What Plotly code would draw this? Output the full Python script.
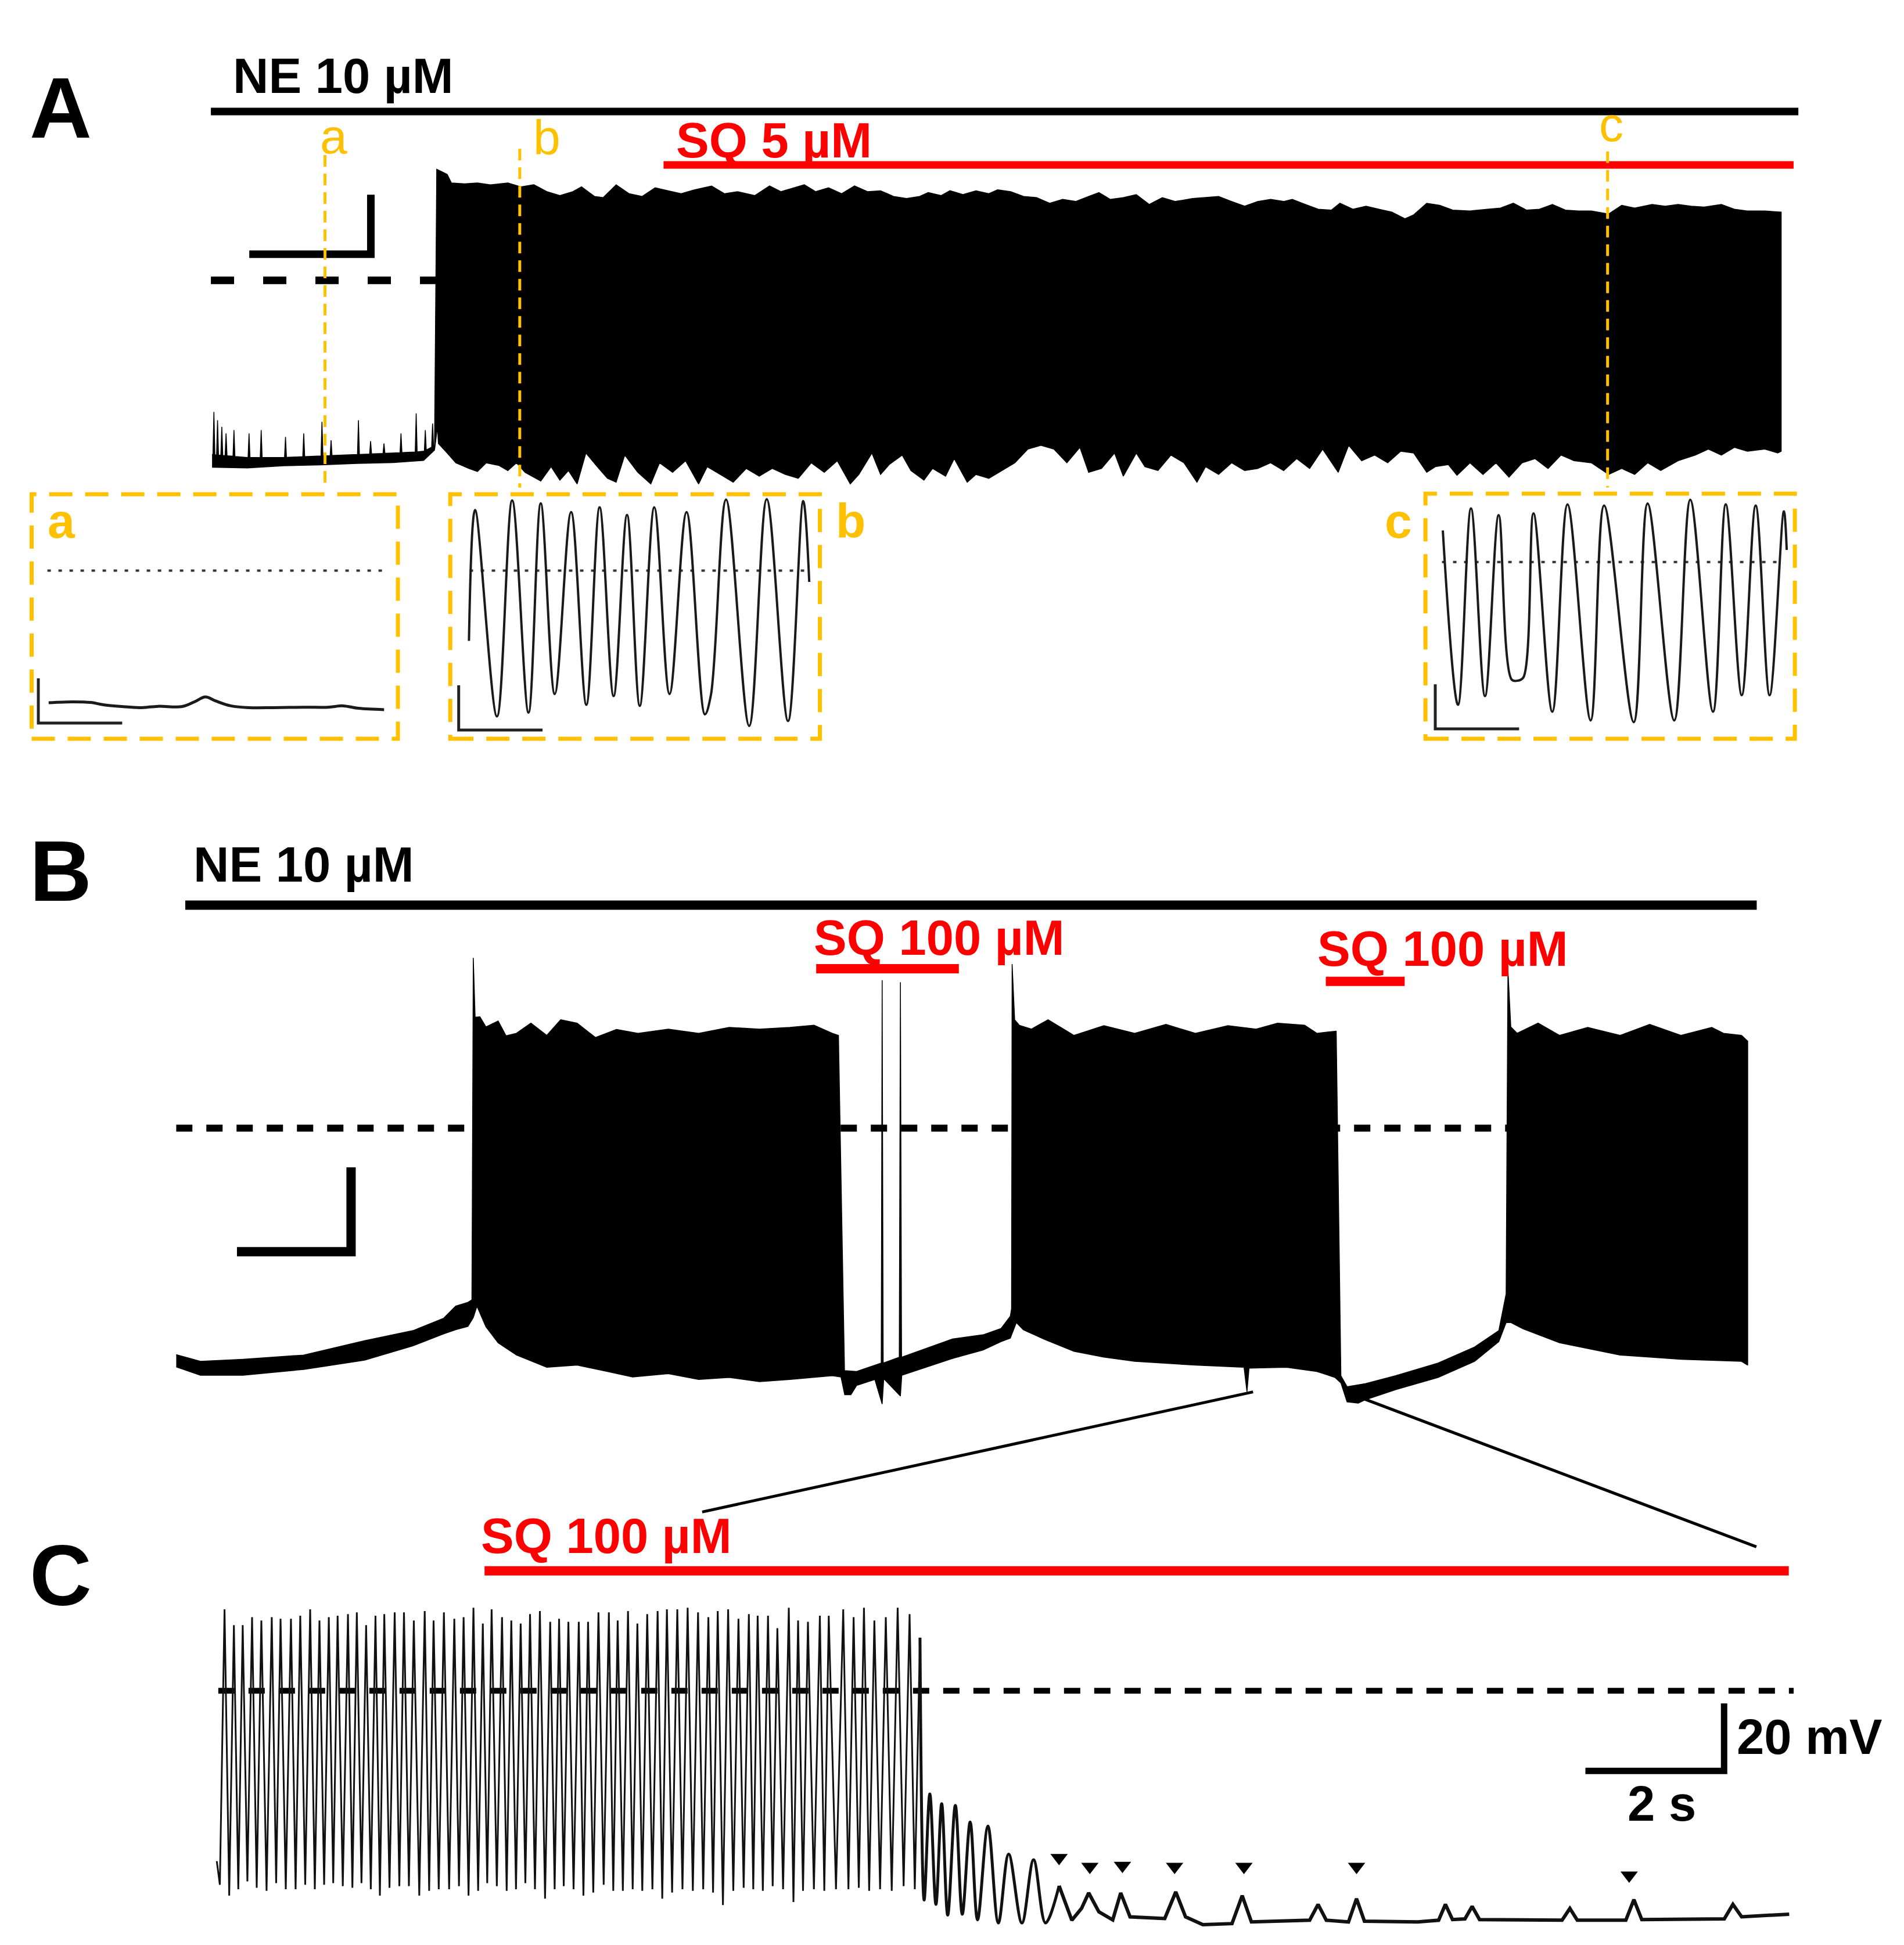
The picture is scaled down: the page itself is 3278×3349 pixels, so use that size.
import numpy as np
import plotly.graph_objects as go

# ---------------- data (time in s, membrane potential in mV) ----------------
# Panel A: NE 10 uM, later SQ 5 uM
# before the burst: noisy baseline band plus isolated spikes
A_PRE_BASE_T = [1, 30, 60, 90, 120, 150, 175, 184]
A_PRE_BASE_V = [-58.5, -59.5, -59.5, -59.0, -58.5, -58.0, -57.5, -55.5]
A_PRE_LOW_V = [-62.8, -63.0, -62.3, -62.0, -61.5, -61.2, -60.5, -57.0]
A_SPIKE_T = [2.5, 5.5, 9.0, 12.5, 19.0, 31.4, 41.4, 61.4, 76.4, 91.4, 98.9, 121.4, 131.4, 142.4,
             156.4, 168.9, 176.4, 182.4]
A_SPIKE_V = [-44.2, -47.0, -49.2, -51.4, -50.3, -51.4, -50.3, -52.6, -51.4, -47.5, -53.7, -47.0,
             -54.0, -54.8, -51.4, -44.7, -50.3, -48.1]
# the burst: upper / lower envelope of the dense firing
A_UP_T = [185.7, 185.8, 194.4, 197.9, 208.6, 219.3, 230.0, 244.3, 255.0, 265.7, 276.4, 287.1, 297.8,
          304.9, 315.6, 322.7, 333.4, 344.1, 354.8, 365.5, 376.2, 386.9, 397.6, 411.9, 422.6, 433.2,
          447.5, 459.6, 468.9, 479.6, 488.2, 497.4, 508.1, 518.8, 529.5, 540.2, 550.9, 561.6, 572.3,
          583.0, 590.1, 600.8, 608.0, 618.7, 629.4, 640.0, 647.2, 657.9, 668.6, 679.3, 690.0, 700.7,
          711.4, 722.1, 730.6, 739.9, 750.6, 761.3, 772.0, 782.7, 793.4, 807.6, 818.3, 829.0, 839.7,
          850.4, 861.1, 871.8, 882.5, 889.6, 900.3, 911.0, 921.7, 928.8, 939.5, 950.3, 960.9, 971.6,
          982.3, 989.5, 1000.2, 1010.9, 1021.6, 1035.8, 1050.1, 1060.8, 1071.5, 1082.2, 1092.9,
          1103.6, 1114.3, 1125.0, 1135.7, 1149.9, 1160.6, 1171.3, 1185.6, 1196.3, 1207.0, 1217.7,
          1228.4, 1242.6, 1253.3, 1264.0, 1278.3, 1289.0, 1291.8]
A_UP_V = [30.0, 37.3, 35.6, 32.7, 32.4, 32.7, 32.1, 32.7, 31.4, 32.1, 29.8, 28.5, 29.8, 31.4, 28.2,
          27.8, 32.1, 29.1, 28.2, 31.1, 30.1, 29.1, 30.4, 31.7, 29.1, 29.8, 28.5, 31.7, 29.8, 31.1,
          32.1, 29.8, 31.1, 29.1, 31.7, 29.8, 30.1, 28.2, 27.5, 28.2, 29.5, 28.5, 30.1, 28.8, 30.1,
          29.1, 30.4, 29.8, 28.2, 27.8, 25.9, 27.2, 26.5, 28.2, 29.5, 27.2, 27.8, 28.8, 25.5, 27.8,
          26.5, 27.5, 27.8, 28.2, 26.5, 24.9, 26.5, 27.2, 26.5, 27.2, 25.5, 23.9, 23.6, 25.9, 23.9,
          24.9, 23.9, 22.9, 20.7, 22.0, 25.9, 25.2, 23.6, 23.3, 23.9, 24.3, 25.9, 23.6, 23.9, 25.5,
          23.6, 23.3, 23.3, 22.3, 25.2, 24.3, 25.5, 24.9, 25.5, 24.9, 24.6, 25.5, 23.9, 23.3, 23.3,
          22.9, 22.9]
A_LO_T = [186.4, 187.2, 194.4, 201.5, 212.2, 219.3, 226.5, 237.1, 244.3, 251.4, 258.5, 271.4, 279.9,
          287.1, 294.2, 301.3, 308.5, 319.2, 326.3, 333.4, 340.5, 351.2, 361.9, 369.1, 379.8, 390.5,
          401.2, 408.3, 419.0, 429.7, 440.4, 451.1, 461.8, 472.5, 483.2, 493.9, 504.6, 515.3, 526.0,
          533.1, 543.8, 550.9, 558.0, 568.7, 575.9, 586.6, 593.7, 604.4, 611.5, 622.2, 629.4, 640.0,
          650.7, 661.4, 672.1, 682.8, 693.5, 704.2, 714.9, 722.1, 732.7, 743.4, 750.6, 761.3, 768.4,
          779.1, 789.8, 800.5, 811.2, 818.3, 829.0, 839.7, 850.4, 861.1, 871.8, 882.5, 893.2, 903.9,
          914.6, 927.4, 936.0, 946.7, 957.4, 968.1, 978.8, 989.5, 1000.2, 1007.3, 1018.0, 1025.1,
          1035.8, 1046.5, 1057.2, 1067.9, 1078.6, 1089.3, 1100.0, 1110.7, 1121.4, 1135.7, 1149.9,
          1160.6, 1171.3, 1182.0, 1192.7, 1207.0, 1221.2, 1231.9, 1242.6, 1253.3, 1264.0, 1278.3,
          1289.0, 1291.8]
A_LO_V = [-49.2, -54.8, -58.0, -61.3, -63.2, -64.2, -61.3, -62.2, -63.9, -61.3, -64.5, -67.4, -62.6,
          -67.1, -63.9, -68.4, -58.0, -63.2, -66.5, -67.8, -58.7, -64.5, -68.4, -61.3, -64.5, -60.6,
          -68.4, -62.6, -65.2, -67.8, -63.2, -65.8, -63.2, -65.2, -66.5, -61.3, -64.5, -60.6, -68.4,
          -65.2, -58.0, -65.2, -61.9, -58.7, -63.9, -67.1, -63.2, -65.8, -59.9, -67.8, -65.2, -66.5,
          -63.9, -61.3, -56.7, -55.4, -56.7, -61.3, -56.1, -64.5, -63.2, -58.0, -65.8, -58.0, -62.6,
          -63.9, -58.7, -61.3, -67.8, -62.6, -65.2, -61.3, -63.9, -63.2, -61.3, -63.9, -59.9, -63.2,
          -56.7, -64.5, -55.4, -60.6, -58.7, -61.3, -57.4, -58.0, -64.5, -62.6, -61.9, -65.5, -61.3,
          -65.2, -61.3, -66.1, -61.3, -59.9, -63.2, -58.7, -60.6, -61.3, -65.2, -63.2, -65.2, -61.3,
          -63.9, -60.6, -58.7, -56.7, -58.7, -56.1, -57.4, -56.7, -58.0, -57.4]
A_NE = [0, 1306]
A_SQ = [372.4, 1302]
A_MARK_T = [93.9, 254.1, 1149.0]

# insets a, b, c (expanded views)
INSET_A_T = [0.203, 0.493, 0.710, 0.855, 1.072, 1.290, 1.507, 1.796, 1.941, 2.072, 2.195, 2.376,
             2.593, 2.883, 3.246, 3.536, 3.716, 3.898, 4.203]
INSET_A_V = [-59.2, -58.8, -59.1, -60.1, -60.9, -61.4, -60.8, -60.9, -58.8, -56.6, -58.4, -60.6,
             -61.4, -61.4, -61.2, -61.2, -60.6, -61.7, -62.3]
INSET_B_T = [0.223, 0.296, 0.557, 0.738, 0.933, 1.079, 1.246, 1.441, 1.623, 1.781, 1.948, 2.108,
             2.260, 2.433, 2.615, 2.818, 3.036, 3.108, 3.289, 3.565, 3.774, 4.028, 4.209, 4.281]
INSET_B_V = [-31.5, 27.1, -65.3, 31.4, -63.6, 30.1, -55.3, 26.2, -60.1, 28.3, -56.2, 24.9, -60.6,
             28.3, -55.3, 26.2, -64.4, -55.8, 31.8, -69.6, 32.0, -67.4, 31.1, -5.1]
INSET_C_T = [0.207, 0.388, 0.543, 0.710, 0.873, 1.028, 1.098, 1.167, 1.288, 1.513, 1.694, 1.970,
             2.130, 2.484, 2.649, 2.967, 3.158, 3.429, 3.581, 3.772, 3.938, 4.104, 4.274, 4.308]
INSET_C_V = [14.1, -64.0, 24.0, -60.1, 21.0, -52.7, -53.2, -51.8, 21.8, -67.1, 25.8, -71.0, 25.3,
             -71.8, 26.2, -71.0, 27.9, -67.1, 25.8, -59.7, 25.3, -59.7, 22.7, 5.4]

# Panel B: NE 10 uM with two SQ 100 uM applications
B_UP_T = [0, 21.3, 58.6, 111.8, 165.1, 207.6, 234.3, 245.0, 255.7, 259.2, 260.4, 262.0, 266.2, 271.5,
          282.2, 289.1, 298.2, 310.9, 324.8, 337.0, 351.4, 367.4, 385.9, 404.7, 431.3, 457.9, 484.6,
          511.2, 537.8, 559.0, 575.0, 580.4, 585.7, 596.3, 612.3, 617.9, 618.7, 619.6, 633.7, 634.7,
          635.7, 680.4, 707.1, 722.9, 731.0, 732.1, 732.6, 734.8, 738.9, 749.6, 764.1, 786.8, 813.0,
          840.0, 867.4, 893.2, 921.7, 946.4, 965.2, 988.9, 999.6, 1016.6, 1020.7, 1026.1, 1042.1,
          1068.7, 1105.9, 1137.8, 1159.1, 1165.5, 1167.1, 1169.6, 1175.1, 1193.5, 1212.3, 1237.0,
          1265.4, 1291.3, 1318.7, 1345.7, 1356.0, 1371.8, 1377.2]
B_UP_V = [-53.7, -55.3, -54.8, -53.8, -50.4, -48.0, -45.1, -42.2, -41.3, -40.7, 40.4, 26.3, 26.4, 24.0,
          25.4, 21.9, 22.5, 24.9, 22.0, 25.7, 24.9, 21.5, 23.4, 22.5, 23.5, 22.5, 23.9, 23.5, 23.9,
          24.4, 22.5, 22.0, -57.5, -57.7, -56.2, -55.7, 35.1, -55.7, -54.3, 34.6, -54.3, -50.0, -49.0,
          -47.5, -44.6, -42.8, 38.9, 25.7, 24.4, 23.5, 25.7, 22.0, 24.3, 22.5, 24.6, 22.5, 24.3, 23.5,
          24.9, 24.4, 22.5, 23.0, -58.7, -61.3, -60.6, -58.7, -55.7, -51.9, -48.0, -39.3, 37.5, 24.0,
          22.5, 24.9, 22.0, 23.9, 22.0, 24.6, 22.0, 23.9, 22.5, 22.0, 20.6]
B_LO_T = [0, 21.3, 58.6, 111.8, 165.1, 207.6, 234.3, 245.0, 255.7, 260.4, 263.6, 271.5, 282.2, 298.2,
          324.8, 351.4, 378.0, 400.0, 431.3, 457.9, 484.6, 511.2, 537.8, 575.0, 582.6, 585.9, 591.3,
          596.3, 612.3, 618.7, 620.1, 634.7, 635.9, 680.4, 707.1, 722.9, 731.0, 736.3, 742.4, 760.2,
          786.8, 813.0, 840.0, 893.2, 935.8, 938.4, 940.2, 972.9, 999.6, 1015.5, 1020.7, 1026.1,
          1035.9, 1042.1, 1068.7, 1105.9, 1137.8, 1159.1, 1165.5, 1169.8, 1180.4, 1212.3, 1265.4,
          1318.7, 1371.8, 1377.2]
B_LO_V = [-56.6, -58.6, -58.6, -57.2, -55.0, -51.6, -48.8, -47.8, -47.0, -44.9, -42.2, -47.1, -50.9,
          -53.8, -56.7, -56.2, -57.7, -59.0, -58.2, -59.6, -59.1, -60.1, -59.6, -58.7, -59.0, -63.2,
          -63.2, -61.0, -59.6, -65.4, -59.4, -63.5, -58.6, -54.6, -52.6, -50.6, -49.8, -46.1, -47.8,
          -50.0, -52.9, -54.3, -55.3, -56.2, -56.7, -62.5, -56.9, -56.7, -57.7, -59.1, -60.4, -64.9,
          -65.2, -64.4, -62.0, -59.1, -55.3, -50.6, -46.1, -46.1, -47.6, -50.9, -53.8, -54.8, -55.3,
          -56.2]
B_NE = [8.0, 1385.1]
B_SQ1 = [560.9, 685.9]
B_SQ2 = [1007.5, 1076.6]

# Panel C: expanded view, SQ 100 uM; spike peaks, troughs, then decaying oscillations
C_PEAK_T = [0.090, 0.225, 0.352, 0.487, 0.621, 0.771, 0.898, 1.048, 1.182, 1.325, 1.459, 1.594, 1.721,
            1.870, 1.998, 2.132, 2.267, 2.394, 2.544, 2.678, 2.820, 2.977, 3.105, 3.254, 3.404, 3.538,
            3.680, 3.815, 3.942, 4.092, 4.226, 4.361, 4.496, 4.638, 4.787, 4.915, 5.049, 5.199, 5.333,
            5.483, 5.633, 5.760, 5.909, 6.044, 6.186, 6.336, 6.470, 6.620, 6.769, 6.919, 7.068, 7.203,
            7.353, 7.502, 7.652, 7.779, 7.928, 8.063, 8.228, 8.362, 8.504, 8.676, 8.804, 9.013, 9.163,
            9.312, 9.462, 9.627, 9.798, 9.970, 10.120]
C_PEAK_V = [24.1, 19.4, 19.4, 21.8, 20.8, 21.8, 21.3, 21.3, 22.2, 24.1, 20.8, 21.8, 22.2, 22.7, 23.2,
            19.4, 22.2, 22.7, 23.2, 23.2, 20.8, 23.6, 20.8, 23.2, 21.3, 21.8, 24.6, 19.9, 24.1, 21.8,
            20.8, 19.9, 22.7, 23.6, 20.4, 21.3, 20.4, 20.4, 20.4, 23.2, 23.2, 20.8, 23.6, 19.9, 22.7,
            23.6, 24.1, 24.1, 24.6, 23.2, 21.8, 23.6, 24.1, 21.3, 22.7, 22.2, 22.2, 18.5, 24.6, 20.8,
            20.4, 22.2, 22.2, 24.1, 21.8, 24.6, 20.8, 21.8, 24.6, 22.7, 15.7]
C_TROUGH_V = [-57.5, -60.7, -58.8, -56.5, -58.4, -59.3, -57.0, -58.8, -58.8, -57.5, -58.8, -57.5, -57.0,
              -57.9, -58.4, -57.0, -58.8, -60.7, -58.4, -57.9, -57.9, -60.7, -59.3, -58.8, -58.8, -57.9,
              -60.7, -59.3, -57.0, -57.9, -59.3, -58.8, -57.0, -58.8, -61.6, -58.8, -57.9, -58.8, -60.7,
              -59.8, -57.5, -59.3, -59.3, -58.8, -59.3, -58.8, -61.6, -59.8, -58.8, -59.3, -58.8, -59.8,
              -63.5, -59.3, -58.4, -58.8, -59.3, -57.9, -58.8, -62.6, -59.3, -58.8, -59.3, -58.8, -58.8,
              -58.4, -59.3, -58.8, -59.3, -57.9, -58.8]
C_START = (-0.022, -50.5)
# damped oscillations right after the burst
C_DAMP_T = [10.18, 10.262, 10.35, 10.433, 10.52, 10.630, 10.73, 10.844, 10.95, 11.100, 11.25, 11.399,
            11.59, 11.758, 11.93, 12.126]
C_DAMP_V = [-62.0, -30.6, -63.3, -33.5, -66.5, -34.0, -66.2, -38.9, -67.9, -40.1, -68.8, -48.4, -68.8,
            -50.1, -68.8, -57.8]
# small residual events on a flat baseline
C_TAIL_T = [12.126, 12.31, 12.45, 12.553, 12.70, 12.90, 13.015, 13.15, 13.65, 13.809, 13.95, 14.2,
            14.62, 14.767, 14.90, 15.5, 15.74, 15.861, 15.98, 16.30, 16.416, 16.53, 17.3, 17.60,
            17.698, 17.80, 17.98, 18.083, 18.19, 19.38, 19.493, 19.60, 20.30, 20.416, 20.53, 21.72,
            21.844, 21.97, 22.656]
C_TAIL_V = [-57.8, -68.0, -64.5, -59.9, -65.5, -67.9, -59.9, -67.0, -67.5, -59.6, -67.0, -69.3, -69.0,
            -60.7, -68.5, -68.3, -68.0, -63.3, -68.0, -68.5, -61.6, -68.3, -68.5, -68.0, -63.3, -67.8,
            -67.6, -63.9, -67.8, -68.0, -64.5, -68.0, -68.0, -61.9, -67.8, -67.6, -63.3, -67.0, -66.2]
C_ARROW_T = [12.126, 12.570, 13.040, 13.792, 14.792, 16.416, 20.348]
C_ARROW_V = [-49.5, -52.1, -51.8, -52.1, -52.1, -52.1, -54.7]
C_SQ = [3.84, 22.65]

# ---------------- layout helpers (positions on a 1535 x 1568 grid) ----------------
W, H = 3278, 3349
SX, SY = W / 1535.0, H / 1568.0
OFF = 8  # page body margin
YEL = '#FFC000'
RED = '#FF0000'
FONT = 'Liberation Sans, Arial, sans-serif'


def px(x):
    return (x * SX - OFF) / W


def py(y):
    return 1 - (y * SY - OFF) / H


def dx(a, b):
    return [px(a), px(b)]


def dy(top, bottom):
    return [py(bottom), py(top)]


fig = go.Figure()


def line(x, y, ax, color='black', width=3, dash=None, shape='linear', fill=None):
    fig.add_trace(go.Scatter(x=list(x), y=list(y), mode='lines', xaxis='x' + ax, yaxis='y' + ax,
                             line=dict(color=color, width=width, dash=dash, shape=shape),
                             fill=fill, fillcolor=color if fill else None,
                             hoverinfo='skip', showlegend=False))


# Panel A ------------------------------------------------------------
line([0, 186], [0, 0], '', width=13, dash='40px,50px')
pre_t, pre_v = list(A_PRE_BASE_T), list(A_PRE_BASE_V)
for t, v in zip(A_SPIKE_T, A_SPIKE_V):
    for tt in (t - 0.8, t + 0.8):
        pre_t.append(tt)
        pre_v.append(float(np.interp(tt, A_PRE_BASE_T, A_PRE_BASE_V)))
    pre_t.append(t)
    pre_v.append(v)
order = np.argsort(pre_t)
up_t = [pre_t[i] for i in order] + A_UP_T
up_v = [pre_v[i] for i in order] + A_UP_V
lo_t = A_PRE_BASE_T + A_LO_T
lo_v = A_PRE_LOW_V + A_LO_V
line(up_t + lo_t[::-1], up_v + lo_v[::-1], '', width=1.5, fill='toself')
line([31.6, 131.6, 131.6], [8.75, 8.75, 28.75], '', width=13)

# insets
line([0.188, 4.188], [0, 0], '2', color='#333', width=4, dash='6px,13px')
line(INSET_A_T, INSET_A_V, '2', color='#1a1a1a', width=5, shape='spline')
line([0.080, 0.080, 1.080], [-48.3, -68.3, -68.3], '2', color='#222', width=5)

line([0.231, 4.23], [0, 0], '3', color='#333', width=4, dash='6px,13px')
line(INSET_B_T, INSET_B_V, '3', color='#1a1a1a', width=4, shape='spline')
line([0.1006, 0.1006, 1.1006], [-51.4, -71.4, -71.4], '3', color='#222', width=5)

line([0.197, 4.25], [0, 0], '4', color='#333', width=4, dash='6px,13px')
line(INSET_C_T, INSET_C_V, '4', color='#1a1a1a', width=4, shape='spline')
line([0.117, 0.117, 1.117], [-54.8, -74.8, -74.8], '4', color='#222', width=5)

# Panel B ------------------------------------------------------------
line([0, 1377], [0, 0], '5', width=12, dash='28px,24px')
line(B_UP_T + B_LO_T[::-1], B_UP_V + B_LO_V[::-1], '5', width=1.5, fill='toself')
line([53.3, 153.3, 153.3], [-29.3, -29.3, -9.3], '5', width=16)

# Panel C ------------------------------------------------------------
line([0, 22.72], [0, 0], '6', width=10, dash='28px,24px')
burst_t, burst_v = [C_START[0]], [C_START[1]]
for i, (t, v) in enumerate(zip(C_PEAK_T, C_PEAK_V)):
    prev = C_PEAK_T[i - 1] if i > 0 else t - (C_PEAK_T[1] - C_PEAK_T[0])
    burst_t += [(prev + t) / 2, t]
    burst_v += [C_TROUGH_V[i], v]
line(burst_t, burst_v, '6', color='#111', width=3)
line([C_PEAK_T[-1]] + C_DAMP_T, [C_PEAK_V[-1]] + C_DAMP_V, '6', color='#111', width=5,
     shape='spline')
line(C_TAIL_T, C_TAIL_V, '6', color='#111', width=6)
fig.add_trace(go.Scatter(x=C_ARROW_T, y=C_ARROW_V, mode='markers', xaxis='x6', yaxis='y6',
                         marker=dict(symbol='triangle-down', size=26, color='black',
                                     line=dict(width=0)),
                         hoverinfo='skip', showlegend=False))
line([19.717, 21.717, 21.717], [-23.75, -23.75, -3.75], '6', width=11)

# ---------------- shapes ----------------
shapes = []


def hbar(ax, t0, t1, v, color, width):
    shapes.append(dict(type='line', xref='x' + ax, yref='y' + ax, x0=t0, x1=t1, y0=v, y1=v,
                       line=dict(color=color, width=width)))


hbar('', A_NE[0], A_NE[1], 56.7, 'black', 13)
hbar('', A_SQ[0], A_SQ[1], 38.75, RED, 13)
hbar('5', B_NE[0], B_NE[1], 52.9, 'black', 16)
hbar('5', B_SQ1[0], B_SQ1[1], 37.8, RED, 16)
hbar('5', B_SQ2[0], B_SQ2[1], 34.8, RED, 16)
hbar('6', C_SQ[0], C_SQ[1], 35.5, RED, 16)

for t, top in zip(A_MARK_T, [42.1, 44.2, 43.3]):
    shapes.append(dict(type='line', xref='x', yref='y', x0=t, x1=t, y0=top, y1=-69.6,
                       line=dict(color=YEL, width=5, dash='20px,12px')))

for ax in ['2', '3', '4']:
    shapes.append(dict(type='rect', xref='x%s domain' % ax, yref='y%s domain' % ax,
                       x0=0, x1=1, y0=0, y1=1, line=dict(color=YEL, width=7, dash='40px,22px')))

# zoom connectors from panel B to panel C
for (x0, y0), (x1, y1) in [((1010.2, 1122.1), (566.1, 1218.9)), ((1095, 1126), (1416, 1247))]:
    shapes.append(dict(type='line', xref='paper', yref='paper', x0=px(x0), y0=py(y0),
                       x1=px(x1), y1=py(y1), line=dict(color='black', width=5)))

# ---------------- text ----------------
annotations = []


def label(text, x, y, size, color='black', bold=True, xanchor='left'):
    annotations.append(dict(text='<b>%s</b>' % text if bold else text, x=px(x), y=py(y),
                            xref='paper', yref='paper', showarrow=False, xanchor=xanchor,
                            yanchor='middle', font=dict(family=FONT, size=size, color=color)))


label('A', 49, 87, 148, xanchor='center')
label('B', 49, 702, 148, xanchor='center')
label('C', 49, 1270, 148, xanchor='center')
label('NE 10 µM', 187, 61, 85)
label('SQ 5 µM', 544, 113, 85, color=RED)
label('NE 10 µM', 155, 697, 85)
label('SQ 100 µM', 655, 756, 85, color=RED)
label('SQ 100 µM', 1061, 765, 85, color=RED)
label('SQ 100 µM', 387, 1238, 85, color=RED)
label('20 mV', 1399, 1400, 85)
label('2 s', 1339.5, 1454, 85, xanchor='center')
for txt, x, y in [('a', 269, 110), ('b', 441, 111), ('c', 1299, 100)]:
    label(txt, x, y, 84, color=YEL, bold=False, xanchor='center')
for txt, x, y in [('a', 49.5, 420), ('b', 686, 420), ('c', 1127.4, 420)]:
    label(txt, x, y, 84, color=YEL, xanchor='center')

ax = dict(visible=False, fixedrange=True)
fig.update_layout(
    width=W, height=H, margin=dict(l=0, r=0, t=0, b=0),
    paper_bgcolor='white', plot_bgcolor='white', showlegend=False,
    xaxis=dict(domain=dx(170, 1450), range=[0, 1306.1], anchor='y', **ax),
    yaxis=dict(domain=dy(40, 400), range=[-72.5, 77.5], anchor='x', **ax),
    xaxis2=dict(domain=dx(25.5, 320.8), range=[0, 4.368], anchor='y2', **ax),
    yaxis2=dict(domain=dy(398.4, 595.5), range=[-75.3, 34.2], anchor='x2', **ax),
    xaxis3=dict(domain=dx(363, 661), range=[0, 4.408], anchor='y3', **ax),
    yaxis3=dict(domain=dy(398.4, 595.5), range=[-75.3, 34.2], anchor='x3', **ax),
    xaxis4=dict(domain=dx(1149.2, 1447), range=[0, 4.405], anchor='y4', **ax),
    yaxis4=dict(domain=dy(398, 595.5), range=[-79.2, 30.6], anchor='x4', **ax),
    xaxis5=dict(domain=dx(142, 1417), range=[0, 1385.9], anchor='y5', **ax),
    yaxis5=dict(domain=dy(680, 1140), range=[-67.8, 67.5], anchor='x5', **ax),
    xaxis6=dict(domain=dx(160, 1460), range=[-0.286, 22.97], anchor='y6', **ax),
    yaxis6=dict(domain=dy(1200, 1560), range=[-72.4, 59.9], anchor='x6', **ax),
    shapes=shapes, annotations=annotations,
)

fig.write_html("out.html")
